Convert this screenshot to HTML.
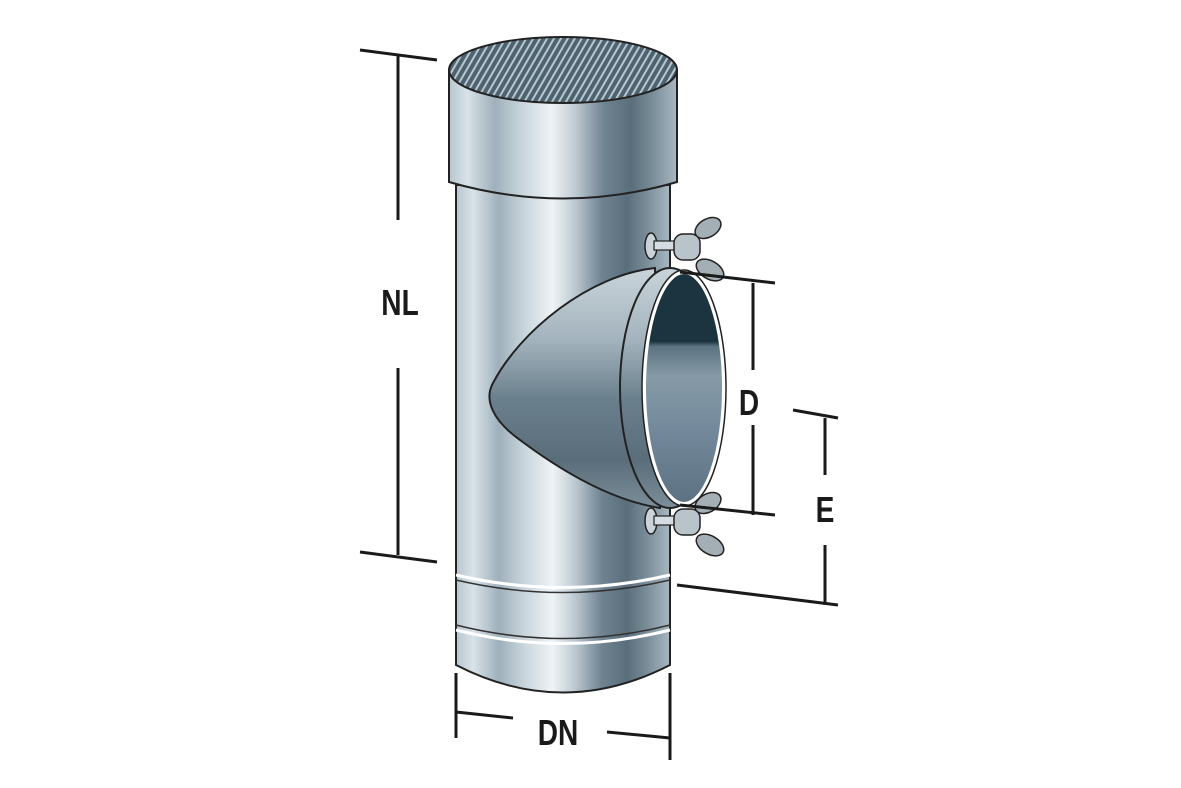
<!DOCTYPE html>
<html><head><meta charset="utf-8"><style>
html,body{margin:0;padding:0;background:#fff;}
svg{display:block}
text{font-family:"Liberation Sans",sans-serif;font-weight:bold;fill:#1a1a1a}
</style></head><body>
<svg width="1181" height="788" viewBox="0 0 1181 788" xmlns="http://www.w3.org/2000/svg">
<defs>
<linearGradient id="pipe" x1="0" x2="1" y1="0" y2="0">
<stop offset="0" stop-color="#b8c6cf"/>
<stop offset="0.08" stop-color="#d8e2e8"/>
<stop offset="0.2" stop-color="#9fb0bb"/>
<stop offset="0.32" stop-color="#c9d5dc"/>
<stop offset="0.45" stop-color="#eef3f5"/>
<stop offset="0.55" stop-color="#c0ccd4"/>
<stop offset="0.68" stop-color="#6f8391"/>
<stop offset="0.8" stop-color="#5a6e7b"/>
<stop offset="0.9" stop-color="#7d909c"/>
<stop offset="1" stop-color="#a8b8c2"/>
</linearGradient>
<linearGradient id="cone" x1="0" x2="0" y1="0" y2="1">
<stop offset="0" stop-color="#c9d4da"/>
<stop offset="0.3" stop-color="#a3b3bd"/>
<stop offset="0.55" stop-color="#6a7f8c"/>
<stop offset="0.8" stop-color="#5a6d7a"/>
<stop offset="1" stop-color="#7b8e9a"/>
</linearGradient>
<linearGradient id="open" x1="0" x2="0" y1="0" y2="1">
<stop offset="0" stop-color="#1c3440"/>
<stop offset="0.3" stop-color="#1c3440"/>
<stop offset="0.32" stop-color="#5b7280"/>
<stop offset="0.45" stop-color="#869aa6"/>
<stop offset="0.7" stop-color="#72889a"/>
<stop offset="1" stop-color="#5c7180"/>
</linearGradient>
<pattern id="hatch" width="6" height="6" patternUnits="userSpaceOnUse" patternTransform="rotate(30)">
<rect width="6" height="6" fill="#4e6370"/><rect width="2" height="6" fill="#b9c6ce"/>
</pattern>
</defs>
<path d="M456 185 L456 665 Q563 720 670 665 L670 185 Z" fill="url(#pipe)" stroke="#222" stroke-width="2"/>
<path d="M456 575 Q563 600 670 575" fill="none" stroke="#fff" stroke-width="3"/>
<path d="M456 580 Q563 605 670 580" fill="none" stroke="#333" stroke-width="1.5"/>
<path d="M456 625 Q563 652 670 625" fill="none" stroke="#333" stroke-width="1.5"/>
<path d="M456 630 Q563 657 670 630" fill="none" stroke="#fff" stroke-width="3"/>
<path d="M449 70 L449 182 Q563 215 677 182 L677 70 Z" fill="url(#pipe)" stroke="#222" stroke-width="2"/>
<ellipse cx="563" cy="70" rx="114" ry="33" fill="url(#hatch)" stroke="#222" stroke-width="2"/>
<g id="wn">
<ellipse cx="651" cy="246" rx="6" ry="13" fill="#c9d3d9" stroke="#222" stroke-width="1.5"/>
<rect x="654" y="241" width="26" height="9" fill="#d5dde2" stroke="#222" stroke-width="1.2"/>
<ellipse cx="708" cy="228" rx="14" ry="9" transform="rotate(-30 708 228)" fill="#a4afb5" stroke="#222" stroke-width="1.5"/>
<ellipse cx="710" cy="270" rx="15" ry="9" transform="rotate(30 710 270)" fill="#a4afb5" stroke="#222" stroke-width="1.5"/>
<rect x="674" y="234" width="26" height="26" rx="9" fill="#b9c4ca" stroke="#222" stroke-width="1.5"/>
</g>
<use href="#wn" transform="translate(0,275)"/>
<path d="M655 268 C590 275 520 330 492 385 C485 400 492 420 520 440 C560 470 610 500 660 508 Z" fill="url(#cone)" stroke="#222" stroke-width="2"/>
<ellipse cx="670" cy="388" rx="50" ry="120" fill="url(#cone)" stroke="#222" stroke-width="2"/>
<ellipse cx="684" cy="388" rx="40" ry="116" fill="url(#open)" stroke="#fff" stroke-width="4"/>
<ellipse cx="684" cy="388" rx="42" ry="118" fill="none" stroke="#222" stroke-width="1.5"/>
<g stroke="#1a1a1a" stroke-width="3" fill="none">
<path d="M360 50 L437 60 M398 55 V220 M398 368 V555 M360 552 L437 562"/>
<path d="M680 272 L775 283 M753 283 V370 M753 425 V515 M680 505 L775 515"/>
<path d="M793 410 L838 418 M825 418 V475 M825 545 V605 M677 585 L838 605"/>
<path d="M456 673 V738 M670 673 V760 M456 712 L513 718 M607 732 L670 738"/>
</g>
<g font-size="36" text-anchor="middle">
<text transform="translate(400,315) scale(0.78,1)">NL</text>
<text transform="translate(749,415) scale(0.78,1)">D</text>
<text transform="translate(825,522) scale(0.78,1)">E</text>
<text transform="translate(558,745) scale(0.78,1)">DN</text>
</g>
</svg>
</body></html>
